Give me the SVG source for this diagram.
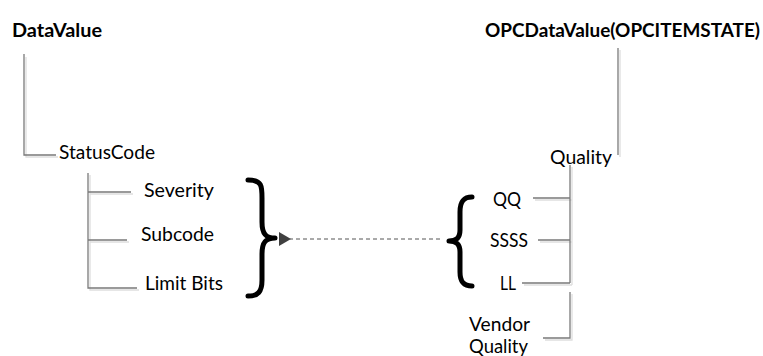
<svg xmlns="http://www.w3.org/2000/svg" width="763" height="356" viewBox="0 0 763 356">
  <defs>
    <marker id="tri" viewBox="0 0 12 14" refX="1" refY="7" markerWidth="12" markerHeight="14" markerUnits="userSpaceOnUse" orient="auto">
      <path d="M12,0 L0,7 L12,14 Z" fill="#404040"/>
    </marker>
  </defs>
  <style>
    text { font-family: Lato, "Open Sans", "Liberation Sans", sans-serif; fill: #000; }
    .title { font-size: 18px; font-weight: bold; }
    .lbl { font-size: 18.5px; }
    .tree { fill: none; stroke: #7a7a7a; stroke-width: 1.3; }
    .shadow { fill: none; stroke: #dedede; stroke-width: 1.3; }
    .brace { fill: none; stroke: #000; stroke-width: 5; stroke-linecap: round; stroke-linejoin: round; }
    .dash { fill: none; stroke: #555; stroke-width: 1; stroke-dasharray: 4 3; }
  </style>
  <rect width="763" height="356" fill="#fff"/>

  <!-- left tree: DataValue -->
  <g id="datavalue"><text class="title" x="12" y="37" textLength="90" lengthAdjust="spacingAndGlyphs">DataValue</text></g>
  <g id="statuscode"><text class="lbl" x="59" y="159" textLength="96" lengthAdjust="spacingAndGlyphs">StatusCode</text></g>
  <g id="severity"><text class="lbl" x="144" y="197" textLength="70" lengthAdjust="spacingAndGlyphs">Severity</text></g>
  <g id="subcode"><text class="lbl" x="141" y="241" textLength="73" lengthAdjust="spacingAndGlyphs">Subcode</text></g>
  <g id="limitbits"><text class="lbl" x="145" y="290" textLength="78" lengthAdjust="spacingAndGlyphs">Limit Bits</text></g>
  <g id="brace-right"><path class="brace" d="M248,180 C262,180 262,186 262,198 L262,222 C262,234 266,238 275,238 C266,238 262,242 262,254 L262,280 C262,292 258,296 248,296"/></g>

  <!-- right tree: OPCDataValue -->
  <g id="opcdatavalue"><text class="title" x="485" y="37" textLength="275" lengthAdjust="spacingAndGlyphs">OPCDataValue(OPCITEMSTATE)</text></g>
  <g id="quality"><text class="lbl" x="550" y="164" textLength="62" lengthAdjust="spacingAndGlyphs">Quality</text></g>
  <g id="qq"><text class="lbl" x="493" y="206" textLength="28" lengthAdjust="spacingAndGlyphs">QQ</text></g>
  <g id="ssss"><text class="lbl" x="490" y="247" textLength="38" lengthAdjust="spacingAndGlyphs">SSSS</text></g>
  <g id="ll"><text class="lbl" x="500" y="290" textLength="16" lengthAdjust="spacingAndGlyphs">LL</text></g>
  <g id="vendorquality"><text class="lbl" x="469" y="331" textLength="61" lengthAdjust="spacingAndGlyphs">Vendor</text><text class="lbl" x="469" y="353" textLength="59" lengthAdjust="spacingAndGlyphs">Quality</text></g>
  <g id="brace-left"><path class="brace" d="M472,197 C464,197 460,201 460,212 L460,230 C460,238 456,241 449,241 C456,241 460,244 460,252 L460,272 C460,282 464,286 472,286"/></g>

  <g id="connectors">
    <!-- soft offset shadows -->
    <path class="shadow" d="M26,57 V157 H58"/>
    <path class="shadow" d="M90,175 V290 H139 M90,194 H133 M90,242 H129"/>
    <path class="shadow" d="M620,50 V157"/>
    <path class="shadow" d="M572,167 V285 M535,200 H572 M540,242 H572 M524,285 H572"/>
    <path class="shadow" d="M572,294 V340 H545"/>
    <!-- tree lines -->
    <path class="tree" d="M24,54 V155 H56"/>
    <path class="tree" d="M88,173 V288 H137 M88,192 H131 M88,240 H127"/>
    <path class="tree" d="M618,48 V155"/>
    <path class="tree" d="M570,165 V283 M533,198 H570 M538,240 H570 M522,283 H570"/>
    <path class="tree" d="M570,292 V338 H543"/>
    <!-- mapping arrow -->
    <path class="dash" d="M440,239 H290" marker-end="url(#tri)"/>
  </g>
</svg>
